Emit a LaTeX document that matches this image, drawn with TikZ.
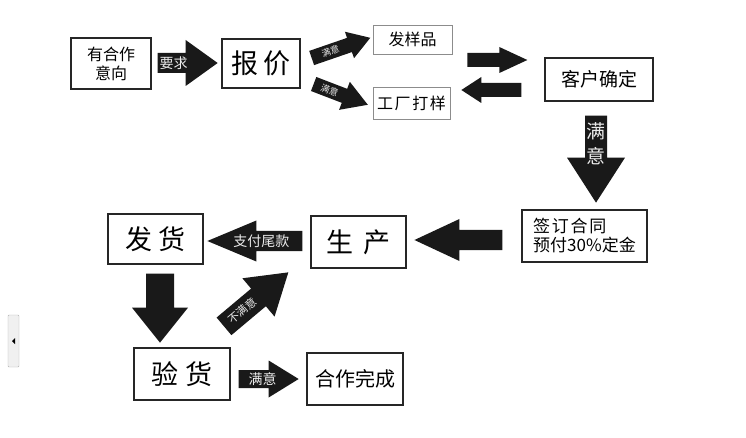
\documentclass[tikz,border=0pt]{standalone}
\usepackage{fontspec}
\setmainfont{Noto Sans CJK SC}
\usetikzlibrary{calc}
\newcommand{\myfs}[2]{\fontsize{#1}{#2}\selectfont}
% #1 tail coordinate, #2 angle, #3 length (signed), #4 body half width,
% #5 head half width, #6 head length (signed), #7 label position, #8 label
\newcommand{\blockarrow}[8]{%
  \begin{scope}[shift={#1}, rotate=#2]
    \fill[arrowfill] (0,{-(#4)}) -- ({#3-(#6)},{-(#4)}) -- ({#3-(#6)},{-(#5)}) -- (#3,0)
      -- ({#3-(#6)},{#5}) -- ({#3-(#6)},{#4}) -- (0,{#4}) -- cycle;
    \node[arrowtext, rotate=#2] at (#7,0) {#8};
  \end{scope}}
\tikzset{
  box/.style={draw=black!85, line width=1.3pt, fill=white, inner sep=0pt, align=center},
  lbox/.style={draw=black!45, line width=0.9pt, fill=white, inner sep=0pt, align=center},
  arrowfill/.style={fill=black!90},
  arrowtext/.style={text=white!92!black, inner sep=0pt},
}
\begin{document}
\begin{tikzpicture}[x=1pt, y=-1pt]
\useasboundingbox (0,0) rectangle (746,438);
\fill[white] (0,0) rectangle (746,438);

% boxes
\node[box, minimum width=80pt, minimum height=51pt, font=\myfs{16}{19}] (b1) at (111,63.5)
  {有合作\\意向};
\node[box, minimum width=78pt, minimum height=49pt, font=\myfs{27}{30}] (b2) at (261,63.5)
  {报\hspace{0.2em}价};
\node[lbox, minimum width=79pt, minimum height=29pt, font=\myfs{16}{18}] (b3) at (412.5,39.5)
  {发样品};
\node[lbox, minimum width=77pt, minimum height=32pt, font=\myfs{16}{18}] (b4) at (411.5,103)
  {工\hspace{0.1em}厂\hspace{0.1em}打\hspace{0.1em}样};
\node[box, minimum width=108pt, minimum height=43pt, font=\myfs{19}{21}] (b5) at (599,79.5)
  {客户确定};
\node[box, line width=1.1pt, minimum width=125pt, minimum height=52pt, align=left, font=\myfs{17}{19}] (b6) at (584.5,236)
  {签\hspace{0.1em}订\hspace{0.1em}合\hspace{0.1em}同\\预付30\%定金\hspace{0.6em}};
\node[box, minimum width=95pt, minimum height=52pt, font=\myfs{27}{30}] (b7) at (358.5,242)
  {生\hspace{0.35em}产};
\node[box, minimum width=95pt, minimum height=50pt, font=\myfs{27}{30}] (b8) at (155.5,239)
  {发\hspace{0.25em}货};
\node[box, minimum width=96pt, minimum height=52pt, font=\myfs{27}{30}] (b9) at (182,374)
  {验\hspace{0.25em}货};
\node[box, minimum width=96pt, minimum height=52pt, font=\myfs{20}{22}] (b10) at (355,379)
  {合作完成};

% block arrows
\blockarrow{($(b1.east)+(6,-0.5)$)}{0}{60}{10}{23}{32}{16}{\myfs{14}{16}要求}
\blockarrow{($(b2.east)+(11,-5.5)$)}{19}{62}{7.5}{14}{22}{20}{\myfs{9}{10}满意}
\blockarrow{($(b2.east)+(13,20.5)$)}{-21}{58}{7.5}{15}{25}{17}{\myfs{9}{10}满意}
\blockarrow{($(b5.west)+(-77,-19.5)$)}{0}{60}{7}{13}{28}{0}{}
\blockarrow{($(b5.west)+(-23,10.5)$)}{0}{-60}{7}{13}{-20}{0}{}
\blockarrow{($(b5.south)+(-3,14)$)}{-90}{87}{11}{29}{45}{0}{}
\node[arrowtext, align=center, font=\myfs{19}{25}] (lm) at ($(b5.south)+(-3,42.5)$)
  {满\\意};
\blockarrow{($(b6.west)+(-19,4)$)}{0}{-88}{10}{21}{-45}{0}{}
\blockarrow{($(b7.west)+(-8,-1)$)}{0}{-95}{10}{20.5}{-49}{-41}{\myfs{14}{16}支付尾款}
\blockarrow{($(b8.south)+(4.5,9)$)}{-90}{69}{14}{28}{35}{0}{}
\blockarrow{($(b9.north)+(42,-21)$)}{40}{84}{11.5}{25}{39}{24}{\myfs{11}{12}不满意}
\blockarrow{($(b9.east)+(8,5)$)}{0}{60}{9}{18.5}{30}{24}{\myfs{14}{16}满意}

% scroll widget at left edge
\node[draw=black!30, fill=black!6, rounded corners=1pt, minimum width=11pt, minimum height=52pt, inner sep=0pt] (w) at (13.5,341) {};
\fill[black] ($(w.center)+(-1.5,0)$) -- ++(3,-3) -- ++(0,6) -- cycle;
\end{tikzpicture}
\end{document}
